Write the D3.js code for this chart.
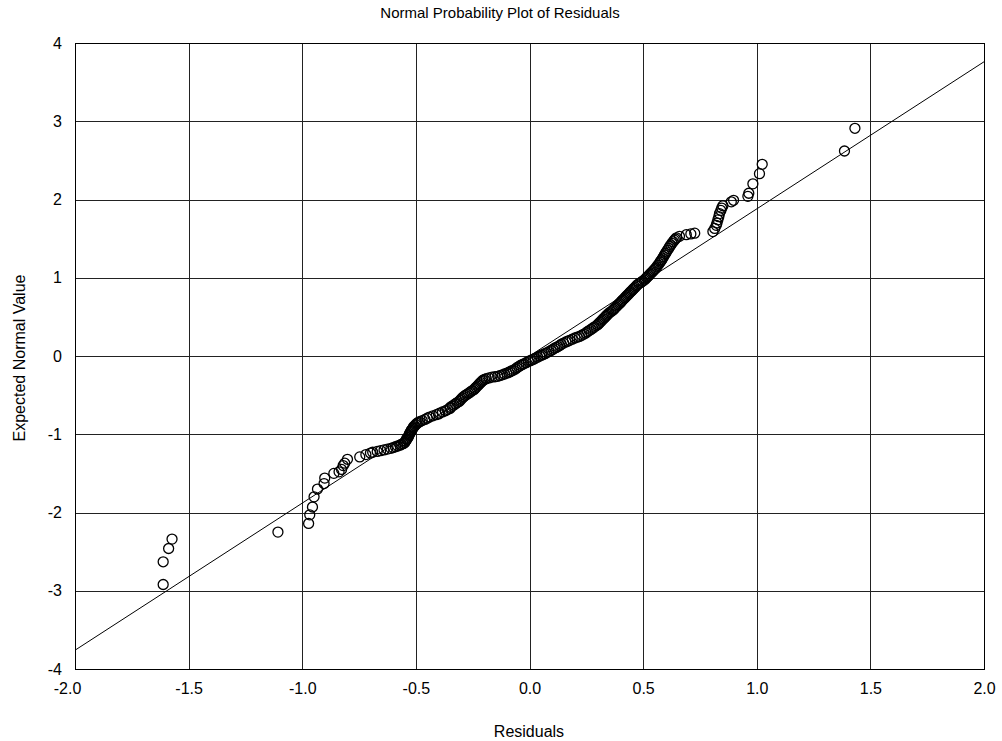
<!DOCTYPE html>
<html><head><meta charset="utf-8">
<script src="https://cdn.jsdelivr.net/npm/d3@7"></script>
<style>
body{margin:0;background:#fff;}
text{font-family:"Liberation Sans",Arial,sans-serif;fill:#000;}
</style></head>
<body><svg id="c" width="1002" height="741"></svg>
<script>
const title = "Normal Probability Plot of Residuals";
const xLabel = "Residuals";
const yLabel = "Expected Normal Value";
const xTicks = [-2.0,-1.5,-1.0,-0.5,0.0,0.5,1.0,1.5,2.0];
const yTicks = [-4,-3,-2,-1,0,1,2,3,4];
const fitSlope = 1.88;
const fitIntercept = 0.0;
const residuals = [
-1.612,-1.612,-1.588,-1.573,-1.107,-0.972,-0.967,-0.955,-0.948,-0.933,-0.904,-0.901,-0.861,-0.838,-0.827,-0.820,-0.813,-0.801,
-0.747,-0.720,-0.700,-0.670,-0.640,-0.610,-0.590,-0.570,-0.556,-0.548,-0.541,-0.535,-0.530,-0.525,-0.520,-0.512,-0.505,-0.495,
-0.483,-0.460,-0.440,-0.410,-0.395,-0.370,-0.350,-0.340,-0.325,-0.310,-0.300,-0.290,-0.275,-0.260,-0.245,-0.235,-0.225,-0.215,
-0.205,-0.190,-0.165,-0.140,-0.120,-0.100,-0.085,-0.070,-0.055,-0.040,-0.025,-0.005,0.010,0.025,0.045,0.060,0.075,0.095,
0.110,0.125,0.140,0.160,0.177,0.200,0.220,0.240,0.255,0.270,0.285,0.300,0.310,0.320,0.330,0.340,0.350,0.365,0.375,0.385,
0.396,0.405,0.415,0.425,0.435,0.445,0.455,0.465,0.475,0.490,0.505,0.515,0.525,0.535,0.545,0.555,0.565,0.575,0.582,0.590,
0.598,0.607,0.617,0.627,0.637,0.647,0.660,0.690,0.710,0.727,
0.807,0.815,0.822,0.825,0.829,0.833,0.836,0.842,0.846,0.851,0.888,0.898,0.961,0.965,0.983,1.012,1.024,1.386,1.432,
-0.690,-0.655,-0.625,-0.600,-0.580,-0.565,-0.550,-0.545,-0.540,-0.532,-0.528,-0.522,-0.516,-0.510,-0.500,-0.490,-0.472,-0.450,
-0.425,-0.400,-0.383,-0.360,-0.348,-0.333,-0.318,-0.305,-0.295,-0.283,-0.268,-0.253,-0.240,-0.230,-0.220,-0.210,-0.198,-0.178,
-0.152,-0.130,-0.110,-0.092,-0.078,-0.062,-0.047,-0.032,-0.015,0.003,0.018,0.035,0.053,0.068,0.085,0.103,0.118,0.133,
0.150,0.168,0.188,0.210,0.230,0.248,0.263,0.278,0.293,0.305,0.315,0.325,0.335,0.345,0.358,0.370,0.380,0.390,
0.400,0.410,0.420,0.430,0.440,0.450,0.460,0.470,0.482,0.497,0.510,0.520,0.530,0.540,0.550,0.560,0.570,0.578,
0.586,0.594,0.602,0.612,0.622,0.632,0.642
];
const expected = [
-2.92,-2.63,-2.46,-2.34,-2.25,-2.14,-2.03,-1.93,-1.80,-1.70,-1.63,-1.56,-1.50,-1.48,-1.45,-1.40,-1.37,-1.32,
-1.29,-1.26,-1.24,-1.22,-1.20,-1.18,-1.16,-1.14,-1.12,-1.10,-1.07,-1.04,-1.01,-0.98,-0.95,-0.92,-0.89,-0.86,
-0.84,-0.81,-0.78,-0.75,-0.73,-0.70,-0.67,-0.64,-0.61,-0.58,-0.55,-0.52,-0.49,-0.46,-0.43,-0.40,-0.37,-0.34,
-0.31,-0.29,-0.27,-0.26,-0.24,-0.22,-0.20,-0.18,-0.15,-0.12,-0.10,-0.07,-0.05,-0.03,0.00,0.02,0.04,0.07,
0.10,0.12,0.15,0.18,0.20,0.23,0.25,0.28,0.31,0.34,0.37,0.40,0.43,0.46,0.49,0.52,0.55,0.58,0.61,0.64,
0.67,0.70,0.73,0.76,0.79,0.82,0.85,0.88,0.91,0.94,0.97,1.00,1.03,1.06,1.09,1.12,1.16,1.20,1.23,1.27,
1.31,1.35,1.40,1.44,1.48,1.51,1.53,1.55,1.56,1.57,
1.59,1.63,1.67,1.70,1.74,1.78,1.82,1.86,1.89,1.92,1.97,1.99,2.04,2.08,2.20,2.33,2.45,2.62,2.91,
-1.23,-1.21,-1.19,-1.17,-1.15,-1.13,-1.11,-1.085,-1.055,-1.025,-0.995,-0.965,-0.935,-0.905,-0.875,-0.85,-0.825,-0.795,
-0.765,-0.74,-0.715,-0.685,-0.655,-0.625,-0.595,-0.565,-0.535,-0.505,-0.475,-0.445,-0.415,-0.385,-0.355,-0.325,-0.30,-0.28,
-0.265,-0.25,-0.23,-0.21,-0.19,-0.165,-0.135,-0.11,-0.085,-0.06,-0.04,-0.015,0.01,0.03,0.055,0.085,0.11,0.135,
0.165,0.19,0.215,0.24,0.265,0.295,0.325,0.355,0.385,0.415,0.445,0.475,0.505,0.535,0.565,0.595,0.625,0.655,
0.685,0.715,0.745,0.775,0.805,0.835,0.865,0.895,0.925,0.955,0.985,1.015,1.045,1.075,1.105,1.14,1.18,1.215,
1.25,1.29,1.33,1.375,1.42,1.46,1.495
];

const svg = d3.select("#c");
const L=75,R=984,T=43,B=669;
const x = d3.scaleLinear().domain([-2,2]).range([L,R]);
const y = d3.scaleLinear().domain([-4,4]).range([B,T]);
const hy = s => s.replace("\u2212","-");

// grid
const g = svg.append("g").attr("shape-rendering","crispEdges");
g.selectAll("line.v").data(xTicks).join("line")
 .attr("x1",d=>Math.round(x(d))+0.5).attr("x2",d=>Math.round(x(d))+0.5)
 .attr("y1",T).attr("y2",B).attr("stroke","#222").attr("stroke-width",1);
g.selectAll("line.h").data(yTicks).join("line")
 .attr("y1",d=>Math.round(y(d))+0.5).attr("y2",d=>Math.round(y(d))+0.5)
 .attr("x1",L).attr("x2",R).attr("stroke","#222").attr("stroke-width",1);
g.append("rect").attr("x",L+0.5).attr("y",T+0.5).attr("width",R-L).attr("height",B-T)
 .attr("fill","none").attr("stroke","#000");

const xa = svg.append("g").attr("transform",`translate(0,${B})`)
 .call(d3.axisBottom(x).tickValues(xTicks).tickFormat(d=>hy(d3.format(".1f")(d))).tickSize(0).tickPadding(14));
xa.select(".domain").remove();
xa.selectAll("text").attr("font-size",16).attr("font-family","Liberation Sans, Arial").attr("fill","#000")
 .attr("dx",(d,i)=>i===0?-8:0);
const ya = svg.append("g").attr("transform",`translate(${L},0)`)
 .call(d3.axisLeft(y).tickValues(yTicks).tickFormat(d=>hy(d3.format("d")(d))).tickSize(0).tickPadding(13));
ya.select(".domain").remove();
ya.selectAll("text").attr("font-size",16).attr("font-family","Liberation Sans, Arial").attr("fill","#000");

// fit line
svg.append("clipPath").attr("id","clip").append("rect").attr("x",L).attr("y",T).attr("width",R-L).attr("height",B-T);
svg.append("line").attr("clip-path","url(#clip)")
 .attr("x1",x(-2)).attr("y1",y(fitIntercept+fitSlope*-2))
 .attr("x2",x(2)).attr("y2",y(fitIntercept+fitSlope*2))
 .attr("stroke","#000").attr("stroke-width",1);

// points
const pts = residuals.map((r,i)=>({r, e:expected[i]}));
svg.append("g").selectAll("circle").data(pts).join("circle")
 .attr("cx",d=>x(d.r)).attr("cy",d=>y(d.e)).attr("r",5)
 .attr("fill","none").attr("stroke","#000").attr("stroke-width",1.3);

svg.append("text").attr("x",500).attr("y",18).attr("text-anchor","middle").attr("font-size",15).text(title);
svg.append("text").attr("x",529).attr("y",737).attr("text-anchor","middle").attr("font-size",16).text(xLabel);
svg.append("text").attr("transform","translate(25,358) rotate(-90)").attr("text-anchor","middle").attr("font-size",16).text(yLabel);
</script></body></html>
